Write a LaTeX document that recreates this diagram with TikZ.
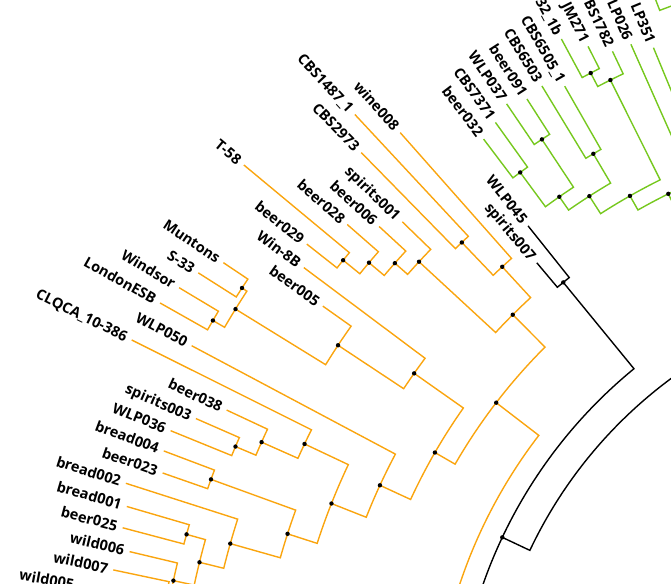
\documentclass[tikz,border=0pt]{standalone}
\usepackage{fontspec}
\setmainfont{Open Sans}
\definecolor{orgC}{RGB}{250,165,15}
\definecolor{grnC}{RGB}{118,200,30}
\tikzset{
  br/.style={line width=1.4pt},
  ora/.style={br, draw=orgC},
  grn/.style={br, draw=grnC},
  blk/.style={br, draw=black},
  lab/.style={font=\bfseries\fontsize{14.5}{16}\selectfont, inner sep=0pt, anchor=east, text height=10.4pt, text depth=0pt},
}
% child -> radial to parent radius -> arc to parent angle
\newcommand\treeedge[6]{\draw[#1] (#2) -- (#3:#4) arc[start angle=#3, end angle=#5, radius=#4] -- (#6);}
\newcommand\tipleaf[4]{\coordinate (#1) at (#2:#3); \node[lab, rotate={#2-180}] (lab#1) at (#2:{#3+5.5}) {#4};}
\begin{document}
\begin{tikzpicture}[x=1pt,y=1pt]
\useasboundingbox (0,-583) rectangle (671,0);
\clip (0,-583) rectangle (671,0);
\begin{scope}[shift={(942,-745)}]
% ---------- leaves ----------
\tipleaf{g32}{118.33}{802.1}{32\_1b}
\tipleaf{gJM}{116.87}{783.2}{JM271}
\tipleaf{gBS}{115.41}{768}{BS1782}
\tipleaf{gL26}{113.94}{766.7}{LP026}
\tipleaf{gL351}{112.48}{754.7}{LP351}
\tipleaf{g65}{119.80}{759.2}{CBS6505\_1}
\tipleaf{g63}{121.26}{771}{CBS6503}
\tipleaf{g091}{122.72}{767.8}{beer091}
\tipleaf{g037}{124.18}{775}{WLP037}
\tipleaf{g7371}{125.65}{766.2}{CBS7371}
\tipleaf{g032}{127.11}{759.8}{beer032}
\tipleaf{kW45}{128.57}{664}{WLP045}
\tipleaf{kS7}{130.04}{629.9}{spirits007}
\tipleaf{oWine}{131.50}{817.7}{wine008}
\tipleaf{o1487}{132.96}{861.5}{CBS1487\_1}
\tipleaf{o2973}{134.43}{829.7}{CBS2973}
\tipleaf{oSp1}{135.89}{751.7}{spirits001}
\tipleaf{oB6}{137.35}{765.3}{beer006}
\tipleaf{oB28}{138.81}{790.4}{beer028}
\tipleaf{oT58}{140.28}{907.7}{T-58}
\tipleaf{oB29}{141.74}{809}{beer029}
\tipleaf{oW8B}{143.20}{797}{Win-8B}
\tipleaf{oB5}{144.67}{759}{beer005}
\tipleaf{oMun}{146.13}{865.5}{Muntons}
\tipleaf{oS33}{147.59}{881}{S-33}
\tipleaf{oWin}{149.06}{889.5}{Windsor}
\tipleaf{oLon}{150.52}{898.3}{LondonESB}
\tipleaf{oW50}{151.98}{850}{WLP050}
\tipleaf{oCLQ}{153.44}{905.9}{CLQCA\_10-386}
\tipleaf{oB38}{154.91}{789.9}{beer038}
\tipleaf{oSp3}{156.37}{814.4}{spirits003}
\tipleaf{oW36}{157.83}{833}{WLP036}
\tipleaf{oBr4}{159.30}{832}{bread004}
\tipleaf{oB23}{160.76}{825.5}{beer023}
\tipleaf{oBr2}{162.22}{857.1}{bread002}
\tipleaf{oBr1}{163.69}{849.4}{bread001}
\tipleaf{oB25}{165.15}{847.7}{beer025}
\tipleaf{oWd6}{166.61}{835.1}{wild006}
\tipleaf{oWd7}{168.07}{847}{wild007}
\tipleaf{oWd5}{169.54}{877}{wild005}
\coordinate (gx) at (111.02:830);
% ---------- internal nodes ----------
\coordinate (G1) at (117.60:758.3);
\coordinate (G2) at (116.505:743.1);
\coordinate (G10) at (113.21:640);
\coordinate (G4) at (120.53:686.4);
\coordinate (G3) at (123.45:725.9);
\coordinate (G5) at (126.38:711.2);
\coordinate (G6) at (124.915:668.6);
\coordinate (G7) at (122.72:652.4);
\coordinate (G8) at (119.61:631.6);
\coordinate (G9) at (116.41:615.4);
\coordinate (Gp) at (116.41:560);
\coordinate (gxp) at (109.5:787);
\coordinate (B3) at (129.305:597.9);
\coordinate (B1) at (154.72:486.3);
\coordinate (B2) at (100:455.8);
\coordinate (Z) at (180.1:508.4);
\coordinate (oe) at (133.695:695.1);
\coordinate (of) at (132.60:649.7);
\coordinate (oa) at (141.01:770.5);
\coordinate (ob) at (139.91:749);
\coordinate (oc) at (138.63:729.1);
\coordinate (od) at (137.26:712.1);
\coordinate (og) at (134.93:607.8);
\coordinate (oj) at (146.86:836);
\coordinate (ol) at (149.79:843.7);
\coordinate (ok) at (148.325:830.2);
\coordinate (oi) at (146.50:724.3);
\coordinate (oh) at (144.85:645.6);
\coordinate (oo) at (157.10:767);
\coordinate (on) at (156.005:744.8);
\coordinate (om) at (154.72:705);
\coordinate (op) at (160.03:777.8);
\coordinate (ow) at (164.42:784.3);
\coordinate (ozz) at (169.25:790);
\coordinate (ox) at (167.93:786);
\coordinate (ov) at (166.175:764.7);
\coordinate (ou) at (164.20:739.7);
\coordinate (os) at (162.115:687.7);
\coordinate (orr) at (158.42:656.6);
\coordinate (oq) at (155.20:619.2);
\coordinate (oX) at (150.025:585.4);
\coordinate (oY) at (142.48:562.1);
% ---------- green edges ----------
\treeedge{grn}{g32}{118.33}{758.3}{117.60}{G1}
\treeedge{grn}{gJM}{116.87}{758.3}{117.60}{G1}
\treeedge{grn}{G1}{117.60}{743.1}{116.505}{G2}
\treeedge{grn}{gBS}{115.41}{743.1}{116.505}{G2}
\treeedge{grn}{gL26}{113.94}{640}{113.21}{G10}
\treeedge{grn}{gL351}{112.48}{640}{113.21}{G10}
\treeedge{grn}{g65}{119.80}{686.4}{120.53}{G4}
\treeedge{grn}{g63}{121.26}{686.4}{120.53}{G4}
\treeedge{grn}{g091}{122.72}{725.9}{123.45}{G3}
\treeedge{grn}{g037}{124.18}{725.9}{123.45}{G3}
\treeedge{grn}{g7371}{125.65}{711.2}{126.38}{G5}
\treeedge{grn}{g032}{127.11}{711.2}{126.38}{G5}
\treeedge{grn}{G3}{123.45}{668.6}{124.915}{G6}
\treeedge{grn}{G5}{126.38}{668.6}{124.915}{G6}
\treeedge{grn}{G4}{120.53}{652.4}{122.72}{G7}
\treeedge{grn}{G6}{124.915}{652.4}{122.72}{G7}
\treeedge{grn}{G2}{116.505}{631.6}{119.61}{G8}
\treeedge{grn}{G7}{122.72}{631.6}{119.61}{G8}
\treeedge{grn}{G10}{113.21}{615.4}{116.41}{G9}
\treeedge{grn}{G8}{119.61}{615.4}{116.41}{G9}
\draw[grn] (G9) -- (Gp);
\treeedge{grn}{gx}{111.02}{787}{109.5}{gxp}
% ---------- black edges ----------
\treeedge{blk}{kW45}{128.57}{597.9}{129.305}{B3}
\treeedge{blk}{kS7}{130.04}{597.9}{129.305}{B3}
\treeedge{blk}{B3}{129.305}{486.3}{154.72}{B1}
\treeedge{blk}{Z}{180.1}{486.3}{154.72}{B1}
\treeedge{blk}{B1}{154.72}{455.8}{100}{B2}
% ---------- orange edges ----------
\treeedge{ora}{oWine}{131.50}{649.7}{132.60}{of}
\treeedge{ora}{o1487}{132.96}{695.1}{133.695}{oe}
\treeedge{ora}{o2973}{134.43}{695.1}{133.695}{oe}
\treeedge{ora}{oe}{133.695}{649.7}{132.60}{of}
\treeedge{ora}{of}{132.60}{607.8}{134.93}{og}
\treeedge{ora}{oSp1}{135.89}{712.1}{137.26}{od}
\treeedge{ora}{oB6}{137.35}{729.1}{138.63}{oc}
\treeedge{ora}{oB28}{138.81}{749}{139.91}{ob}
\treeedge{ora}{oT58}{140.28}{770.5}{141.01}{oa}
\treeedge{ora}{oB29}{141.74}{770.5}{141.01}{oa}
\treeedge{ora}{oa}{141.01}{749}{139.91}{ob}
\treeedge{ora}{ob}{139.91}{729.1}{138.63}{oc}
\treeedge{ora}{oc}{138.63}{712.1}{137.26}{od}
\treeedge{ora}{od}{137.26}{607.8}{134.93}{og}
\treeedge{ora}{og}{134.93}{562.1}{142.48}{oY}
\treeedge{ora}{oW8B}{143.20}{645.6}{144.85}{oh}
\treeedge{ora}{oB5}{144.67}{724.3}{146.50}{oi}
\treeedge{ora}{oMun}{146.13}{836}{146.86}{oj}
\treeedge{ora}{oS33}{147.59}{836}{146.86}{oj}
\treeedge{ora}{oWin}{149.06}{843.7}{149.79}{ol}
\treeedge{ora}{oLon}{150.52}{843.7}{149.79}{ol}
\treeedge{ora}{oj}{146.86}{830.2}{148.325}{ok}
\treeedge{ora}{ol}{149.79}{830.2}{148.325}{ok}
\treeedge{ora}{ok}{148.325}{724.3}{146.50}{oi}
\treeedge{ora}{oi}{146.50}{645.6}{144.85}{oh}
\treeedge{ora}{oh}{144.85}{585.4}{150.025}{oX}
\treeedge{ora}{oW50}{151.98}{619.2}{155.20}{oq}
\treeedge{ora}{oCLQ}{153.44}{705}{154.72}{om}
\treeedge{ora}{oB38}{154.91}{744.8}{156.005}{on}
\treeedge{ora}{oSp3}{156.37}{767}{157.10}{oo}
\treeedge{ora}{oW36}{157.83}{767}{157.10}{oo}
\treeedge{ora}{oo}{157.10}{744.8}{156.005}{on}
\treeedge{ora}{on}{156.005}{705}{154.72}{om}
\treeedge{ora}{om}{154.72}{656.6}{158.42}{orr}
\treeedge{ora}{oBr4}{159.30}{777.8}{160.03}{op}
\treeedge{ora}{oB23}{160.76}{777.8}{160.03}{op}
\treeedge{ora}{op}{160.03}{687.7}{162.115}{os}
\treeedge{ora}{oBr2}{162.22}{739.7}{164.20}{ou}
\treeedge{ora}{oBr1}{163.69}{784.3}{164.42}{ow}
\treeedge{ora}{oB25}{165.15}{784.3}{164.42}{ow}
\treeedge{ora}{ow}{164.42}{764.7}{166.175}{ov}
\treeedge{ora}{oWd6}{166.61}{786}{167.93}{ox}
\treeedge{ora}{oWd7}{168.07}{790}{169.25}{ozz}
\treeedge{ora}{oWd5}{169.54}{790}{169.25}{ozz}
\treeedge{ora}{ozz}{169.25}{786}{167.93}{ox}
\treeedge{ora}{ox}{167.93}{764.7}{166.175}{ov}
\treeedge{ora}{ov}{166.175}{739.7}{164.20}{ou}
\treeedge{ora}{ou}{164.20}{687.7}{162.115}{os}
\treeedge{ora}{os}{162.115}{656.6}{158.42}{orr}
\treeedge{ora}{orr}{158.42}{619.2}{155.20}{oq}
\treeedge{ora}{oq}{155.20}{585.4}{150.025}{oX}
\treeedge{ora}{oX}{150.025}{562.1}{142.48}{oY}
\treeedge{ora}{oY}{142.48}{508.4}{180.1}{Z}
% ---------- node dots ----------
\foreach \nd in {G1,G2,G3,G4,G5,G6,G7,G8,G9,B3,B1,oa,ob,oc,od,oe,of,og,oh,oi,oj,ok,ol,om,on,oo,op,oq,orr,os,ou,ov,ow,ox,oX,oY}
  \fill (\nd) circle[radius=2.2];
\end{scope}
\end{tikzpicture}
\end{document}
